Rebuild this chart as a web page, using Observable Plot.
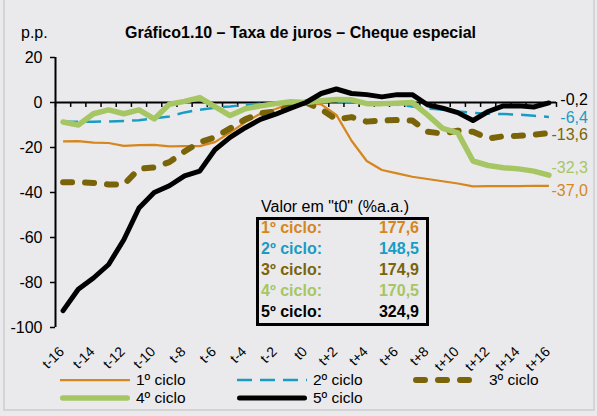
<!DOCTYPE html>
<html>
<head>
<meta charset="utf-8">
<script src="https://cdn.jsdelivr.net/npm/d3@7"></script>
<script src="https://cdn.jsdelivr.net/npm/@observablehq/plot@0.6"></script>
<style>
  body { margin: 0; background: #eaeaec; font-family: "Liberation Sans", Arial, sans-serif; }
  #wrap { position: relative; width: 597px; height: 416px; overflow: hidden; background: #eaeaec; }
  #border { position: absolute; left: 3px; top: -3px; width: 588px; height: 410px; border: 2px solid #d4d4d7; }
  #plot { position: absolute; left: 0; top: 0; }
  .abs { position: absolute; white-space: nowrap; line-height: 18px; font-size: 16px; color: #000; }
  .legText { line-height: 16px; font-size: 15.5px; }
  #title { left: 0; width: 601px; top: 24px; text-align: center; font-weight: bold; }
  #unit { left: 21px; top: 24px; }
  #tabTitle { left: 261px; top: 198px; }
  #box { position: absolute; left: 256px; top: 217px; width: 173px; height: 109px; border: 3px solid #000; box-sizing: border-box; }
  .rowLab { font-weight: bold; left: 261px; }
  .rowVal { font-weight: bold; right: 178px; text-align: right; }
</style>
</head>
<body>
<div id="wrap">
  <div id="border"></div>
  <div id="plot"></div>
  <div id="title" class="abs"></div>
  <div id="unit" class="abs"></div>
  <div id="tabTitle" class="abs"></div>
  <div id="box"></div>
  <div id="table"></div>
  <div id="legend"></div>
</div>
<script>
// ---------- data ----------
const chartTitle = "Gráfico1.10 – Taxa de juros – Cheque especial";
const unitLabel = "p.p.";
const tableTitle = 'Valor em "t0" (%a.a.)';
const periods = ["t-16","t-15","t-14","t-13","t-12","t-11","t-10","t-9","t-8","t-7","t-6","t-5","t-4","t-3","t-2","t-1","t0",
                 "t+1","t+2","t+3","t+4","t+5","t+6","t+7","t+8","t+9","t+10","t+11","t+12","t+13","t+14","t+15","t+16"];
const seriesNames = ["1º ciclo", "2º ciclo", "3º ciclo", "4º ciclo", "5º ciclo"];
const t0Values = [177.6, 148.5, 174.9, 170.5, 324.9];
const ciclo1 = [-17.3,-17.2,-17.8,-18.0,-19.3,-18.9,-18.8,-19.5,-19.4,-19.4,-17.6,-13.4,-8.7,-5.0,-2.9,-0.3,0,
                -0.8,-5.5,-17.0,-26.0,-30.0,-31.5,-33.0,-34.0,-35.0,-36.0,-37.3,-37.2,-37.2,-37.2,-37.0,-37.0];
const ciclo2 = [-8.5,-8.5,-8.6,-8.4,-8.2,-7.9,-7.0,-6.2,-4.4,-3.2,-2.3,-1.8,-1.0,-0.6,-0.3,-0.1,0,
                0.2,0.5,0.3,0.0,-0.5,-1.0,-1.8,-2.6,-3.2,-4.0,-4.6,-5.0,-5.1,-5.4,-5.9,-6.4];
const ciclo3 = [-35.4,-35.4,-35.8,-36.4,-36.5,-29.5,-28.8,-26.5,-21.8,-17.6,-15.5,-11.5,-7.5,-4.8,-4.0,-1.5,0,
                -3.0,-7.5,-6.5,-8.5,-8.0,-7.8,-8.0,-13.0,-13.8,-12.5,-13.0,-16.0,-15.0,-14.8,-14.3,-13.6];
const ciclo4 = [-8.7,-10.0,-5.0,-3.3,-5.0,-3.3,-7.3,-0.8,0.5,2.2,-1.8,-5.8,-2.8,-1.5,-0.5,0.3,0,
                0.8,1.3,1.2,-0.5,-0.5,-0.3,0.0,-5.5,-11.5,-13.5,-26.0,-28.0,-29.0,-29.5,-30.5,-32.3];
const ciclo5 = [-92.5,-83.0,-78.0,-72.0,-61.0,-46.9,-40.0,-37.0,-32.6,-30.5,-21.0,-15.5,-11.2,-7.5,-5.2,-2.5,0,
                4.0,6.0,4.0,3.5,2.5,3.5,3.5,-1.0,-2.5,-4.5,-8.0,-4.0,-1.5,-1.5,-2.0,-0.2];
const yTicks = [20, 0, -20, -40, -60, -80, -100];
const xTickLabels = ["t-16","t-14","t-12","t-10","t-8","t-6","t-4","t-2","t0","t+2","t+4","t+6","t+8","t+10","t+12","t+14","t+16"];

// ---------- styles ----------
const seriesValues = [ciclo1, ciclo2, ciclo3, ciclo4, ciclo5];
const styles = [
  {color: "#d5861c", width: 2.25, dash: null,   cap: "butt",  labelDy: 5.5},
  {color: "#189cc4", width: 2.5,  dash: "15,8", cap: "butt",  labelDy: 0.5},
  {color: "#7a640a", width: 6,    dash: "9,13", cap: "round", labelDy: 1.5},
  {color: "#a6c664", width: 5.5,  dash: null,   cap: "round", labelDy: -7},
  {color: "#000000", width: 5,    dash: null,   cap: "round", labelDy: -3.5}
];
const legendPos = [[60, 380], [237, 380], [413, 380], [60, 398], [237, 398]];
const tableRowY = [228, 249, 270, 291, 312];

const idx = periods.map((p, i) => i - (periods.length - 1) / 2);
const fmt = v => v.toFixed(1).replace(".", ",");

// ---------- plot ----------
const marks = [
  Plot.ruleY([0], {stroke: "#000", strokeWidth: 2}),
  Plot.ruleX(d3.range(idx[0] - 0.5, idx[idx.length - 1] + 1, 1), {x: d => d, y1: 0, y2: -2.2, stroke: "#000", strokeWidth: 1.5}),
  Plot.ruleX([idx[0] - 0.5], {stroke: "#000", strokeWidth: 2}),
  Plot.axisY({ticks: yTicks, tickSize: 5, tickPadding: 8, fontSize: 16, tickFormat: d => String(d), label: null, strokeWidth: 1.5}),
  Plot.text(xTickLabels, {x: d => idx[periods.indexOf(d)], text: d => d, frameAnchor: "bottom", rotate: -45,
                          textAnchor: "end", dx: 2, dy: 25, fontSize: 14, fill: "#000"})
];
seriesValues.forEach((vals, s) => {
  const st = styles[s];
  marks.push(Plot.line(vals, {x: (d, i) => idx[i], y: d => d, stroke: st.color, strokeWidth: st.width,
    strokeDasharray: st.dash || undefined, strokeLinecap: st.cap, strokeLinejoin: "round"}));
});
seriesValues.forEach((vals, s) => {
  const st = styles[s];
  marks.push(Plot.text([vals[vals.length - 1]], {x: () => idx[idx.length - 1], y: d => d, text: d => fmt(d),
    textAnchor: "end", dx: 39, dy: st.labelDy, fill: st.color, fontSize: 16}));
});

const chart = Plot.plot({
  width: 597, height: 416,
  marginTop: 57, marginBottom: 89, marginLeft: 55, marginRight: 41,
  x: {type: "linear", domain: [idx[0] - 0.5, idx[idx.length - 1] + 0.5], axis: null},
  y: {domain: [-100, 20]},
  style: {background: "transparent", fontFamily: "'Liberation Sans', Arial, sans-serif", color: "#000", overflow: "visible"},
  marks
});
document.getElementById("plot").appendChild(chart);

// ---------- html text ----------
document.getElementById("title").textContent = chartTitle;
document.getElementById("unit").textContent = unitLabel;
document.getElementById("tabTitle").textContent = tableTitle;
const table = document.getElementById("table");
seriesNames.forEach((name, s) => {
  const lab = document.createElement("div");
  lab.className = "abs rowLab"; lab.style.top = (tableRowY[s] - 9) + "px"; lab.style.color = styles[s].color;
  lab.textContent = name + ":";
  const val = document.createElement("div");
  val.className = "abs rowVal"; val.style.top = (tableRowY[s] - 9) + "px"; val.style.color = styles[s].color;
  val.textContent = fmt(t0Values[s]);
  table.appendChild(lab); table.appendChild(val);
});
const legend = document.getElementById("legend");
const NS = "http://www.w3.org/2000/svg";
seriesNames.forEach((name, s) => {
  const st = styles[s];
  const [lx, ly] = legendPos[s];
  const svg = document.createElementNS(NS, "svg");
  svg.setAttribute("width", 72); svg.setAttribute("height", 12);
  svg.style.position = "absolute"; svg.style.left = lx + "px"; svg.style.top = (ly - 6) + "px";
  const ln = document.createElementNS(NS, "line");
  const pad = st.cap === "round" ? st.width / 2 : 0;
  ln.setAttribute("x1", pad); ln.setAttribute("x2", 70 - pad); ln.setAttribute("y1", 6); ln.setAttribute("y2", 6);
  ln.setAttribute("stroke", st.color); ln.setAttribute("stroke-width", st.width);
  ln.setAttribute("stroke-linecap", st.cap);
  if (st.dash) ln.setAttribute("stroke-dasharray", st.dash);
  svg.appendChild(ln);
  legend.appendChild(svg);
  const t = document.createElement("div");
  t.className = "abs legText"; t.style.left = (lx + 76) + "px"; t.style.top = (ly - 8) + "px";
  t.textContent = name;
  legend.appendChild(t);
});
</script>
</body>
</html>
